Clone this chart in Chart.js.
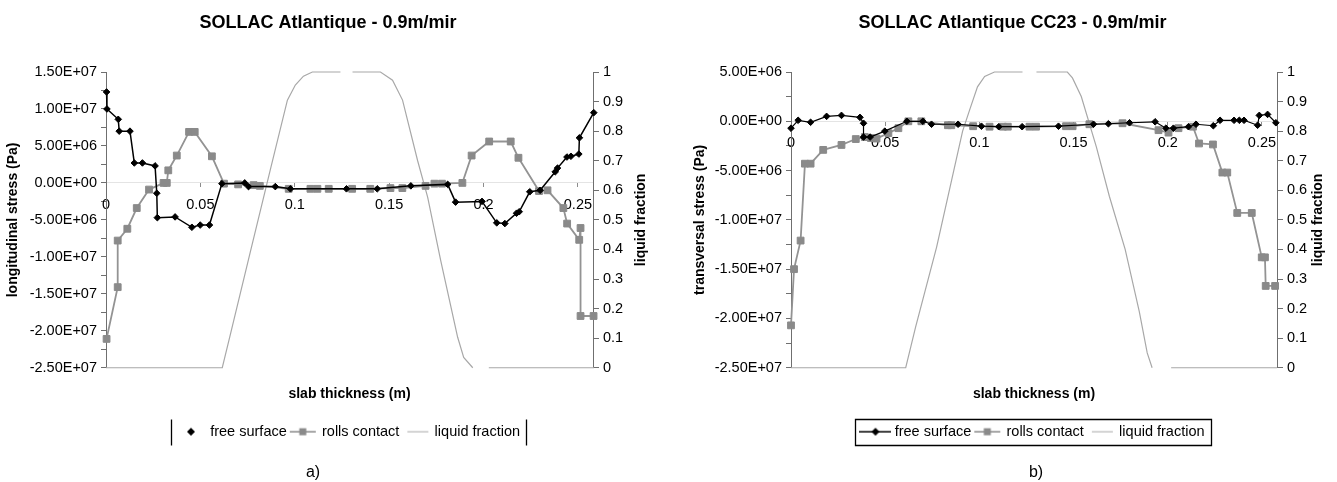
<!DOCTYPE html>
<html>
<head>
<meta charset="utf-8">
<title>SOLLAC Atlantique</title>
<script src="https://cdn.jsdelivr.net/npm/chart.js@4.4.1/dist/chart.umd.min.js"></script>
<style>
  html, body { margin: 0; padding: 0; background: #fff; }
  #wrap { position: relative; width: 1337px; height: 482px; overflow: hidden; }
  canvas { position: absolute; top: 0; }
  #chartA { left: 0; }
  #chartB { left: 668px; }
  .cap { position: absolute; top: 463px; font: 16px "Liberation Sans", Arial, sans-serif; transform: translateX(-50%); }
</style>
</head>
<body>
<div id="wrap">
  <canvas id="chartA" width="668" height="482"></canvas>
  <canvas id="chartB" width="669" height="482"></canvas>
  <div class="cap" style="left:313px">a)</div>
  <div class="cap" style="left:1036px">b)</div>
</div>
<script>
// series names and axis texts
const seriesNames = ['free surface', 'rolls contact', 'liquid fraction'];
const xTitle = 'slab thickness (m)';
const xMax = 0.258;

// a) longitudinal stress (Pa) vs slab thickness (m)
const aFreeX = [0.0003, 0.0005, 0.0065, 0.0070, 0.0127, 0.0150, 0.0193, 0.0260, 0.0269, 0.0272,
  0.0366, 0.0455, 0.0499, 0.0548, 0.0614, 0.0735, 0.0755, 0.0897, 0.0977, 0.1274,
  0.1437, 0.1615, 0.1810, 0.1852, 0.1992, 0.2070, 0.2113, 0.2175, 0.2189, 0.2245,
  0.2300, 0.2380, 0.2392, 0.2442, 0.2463, 0.2505, 0.2508, 0.2584];
const aFreeY = [12.3e6, 10.0e6, 8.6e6, 7.0e6, 7.0e6, 2.7e6, 2.7e6, 2.3e6, -1.4e6, -4.7e6,
  -4.6e6, -6.0e6, -5.7e6, -5.7e6, -0.1e6, 0, -0.5e6, -0.5e6, -0.8e6, -0.8e6,
  -0.8e6, -0.4e6, -0.2e6, -2.6e6, -2.5e6, -5.4e6, -5.5e6, -4.1e6, -3.9e6, -1.2e6,
  -1.0e6, 1.5e6, 2.0e6, 3.5e6, 3.6e6, 3.9e6, 6.1e6, 9.5e6];
const aRollX = [0.0003, 0.0062, 0.0062, 0.0113, 0.0163, 0.0228, 0.0305, 0.0322, 0.0330, 0.0375,
  0.0440, 0.0470, 0.0561, 0.0625, 0.0700, 0.0782, 0.0815, 0.0968, 0.1083, 0.1120,
  0.1180, 0.1304, 0.1400, 0.1507, 0.1570, 0.1693, 0.1740, 0.1780, 0.1888, 0.1937,
  0.2030, 0.2144, 0.2185, 0.2294, 0.2339, 0.2423, 0.2443, 0.2507, 0.2514, 0.2514, 0.2583];
const aRollY = [-21.1e6, -14.1e6, -7.8e6, -6.2e6, -3.4e6, -0.9e6, 0, 0, 1.7e6, 3.7e6,
  6.9e6, 6.9e6, 3.6e6, -0.1e6, -0.2e6, -0.3e6, -0.4e6, -0.8e6, -0.8e6, -0.8e6,
  -0.8e6, -0.8e6, -0.8e6, -0.7e6, -0.7e6, -0.4e6, -0.1e6, -0.1e6, 0, 3.7e6,
  5.6e6, 5.6e6, 3.4e6, -1.1e6, -1.0e6, -3.4e6, -5.5e6, -7.7e6, -6.1e6, -18.0e6, -18.0e6];
const aLiqX = [0, 0.0616, 0.0658, 0.0764, 0.0870, 0.0961, 0.1003, 0.1046, 0.1093, 0.1242,
  0.1274, 0.1306, 0.1454, 0.1518, 0.1571, 0.1651, 0.1704, 0.1773, 0.1863, 0.1895,
  0.1943, 0.1985, 0.2028, 0.2585];
const aLiqY = [0, 0, 0.11, 0.39, 0.668, 0.905, 0.956, 0.986, 1, 1,
  null, 1, 1, 0.972, 0.905, 0.70, 0.577, 0.363, 0.103, 0.035,
  0, null, 0, 0];

// b) transversal stress (Pa) vs slab thickness (m)
const bFreeX = [0.0000, 0.0038, 0.0104, 0.0189, 0.0268, 0.0366, 0.0385, 0.0385, 0.0420, 0.0498,
  0.0615, 0.0700, 0.0746, 0.0887, 0.1011, 0.1103, 0.1227, 0.1420, 0.1606, 0.1685,
  0.1797, 0.1933, 0.1990, 0.2030, 0.2110, 0.2150, 0.2242, 0.2278, 0.2352, 0.2380,
  0.2405, 0.2477, 0.2486, 0.2530, 0.2574];
const bFreeY = [-0.7e6, 0.1e6, -0.1e6, 0.5e6, 0.6e6, 0.4e6, -0.2e6, -1.6e6, -1.6e6, -1.0e6,
  0, 0, -0.3e6, -0.3e6, -0.5e6, -0.55e6, -0.55e6, -0.5e6, -0.3e6, -0.25e6,
  -0.15e6, -0.05e6, -0.7e6, -0.7e6, -0.55e6, -0.3e6, -0.45e6, 0.1e6, 0.1e6, 0.1e6,
  0.1e6, -0.4e6, 0.6e6, 0.7e6, -0.15e6];
const bRollX = [0.0000, 0.0016, 0.0051, 0.0074, 0.0104, 0.0171, 0.0268, 0.0344, 0.0392, 0.0424,
  0.0454, 0.0517, 0.0570, 0.0623, 0.0692, 0.0833, 0.0851, 0.0967, 0.1054, 0.1125,
  0.1151, 0.1266, 0.1301, 0.1460, 0.1495, 0.1584, 0.1760, 0.1951, 0.2004, 0.2057,
  0.2134, 0.2166, 0.2240, 0.2290, 0.2316, 0.2369, 0.2446, 0.2499, 0.2516, 0.2520, 0.2570];
const bRollY = [-20.7e6, -15.0e6, -12.1e6, -4.3e6, -4.3e6, -2.9e6, -2.4e6, -1.8e6, -1.6e6, -1.7e6,
  -1.75e6, -1.2e6, -0.7e6, 0, 0, -0.4e6, -0.4e6, -0.5e6, -0.55e6, -0.55e6,
  -0.55e6, -0.55e6, -0.55e6, -0.5e6, -0.5e6, -0.3e6, -0.2e6, -0.9e6, -1.15e6, -0.7e6,
  -0.55e6, -2.25e6, -2.35e6, -5.2e6, -5.2e6, -9.3e6, -9.3e6, -13.8e6, -13.8e6, -16.7e6, -16.7e6];
const bLiqX = [0, 0.0609, 0.0662, 0.0773, 0.0911, 0.0948, 0.0990, 0.1028, 0.1080, 0.1229,
  0.1266, 0.1303, 0.1467, 0.1494, 0.1541, 0.1621, 0.1690, 0.1774, 0.1849, 0.1891,
  0.1917, 0.1967, 0.2018, 0.2580];
const bLiqY = [0, 0, 0.139, 0.408, 0.80, 0.871, 0.95, 0.985, 1, 1,
  null, 1, 1, 0.98, 0.917, 0.747, 0.58, 0.40, 0.19, 0.05,
  0, null, 0, 0];

const FONT = '"Liberation Sans", Arial, Helvetica, sans-serif';
Chart.defaults.font.family = FONT;
Chart.defaults.font.size = 14.5;
Chart.defaults.color = '#000';

function pts(xs, ys) {
  return xs.map((x, i) => ({ x: x, y: ys[i] }));
}

// Excel style "1.50E+07"
function sci(v) {
  if (Math.abs(v) < 1e-6) return '0.00E+00';
  const parts = v.toExponential(2).split('e');
  const sign = parts[1][0];
  const exp = parts[1].slice(1).padStart(2, '0');
  return parts[0] + 'E' + sign + exp;
}

// small legend pictures: line with marker
function legendIcon(kind, withLine) {
  const c = document.createElement('canvas');
  c.width = 32; c.height = 12;
  const g = c.getContext('2d');
  const cx = 16, cy = 6;
  if (kind === 'free') {
    if (withLine) {
      g.strokeStyle = '#000'; g.lineWidth = 1.5;
      g.beginPath(); g.moveTo(0, cy); g.lineTo(32, cy); g.stroke();
    }
    g.fillStyle = '#000';
    g.beginPath();
    g.moveTo(cx - 4, cy); g.lineTo(cx, cy - 4); g.lineTo(cx + 4, cy); g.lineTo(cx, cy + 4);
    g.closePath(); g.fill();
  } else if (kind === 'roll') {
    g.strokeStyle = '#8a8a8a'; g.lineWidth = 1.5;
    g.beginPath(); g.moveTo(3, cy); g.lineTo(29, cy); g.stroke();
    g.fillStyle = '#8a8a8a';
    g.fillRect(cx - 3.5, cy - 3.5, 7, 7);
  } else {
    g.strokeStyle = '#a8a8a8'; g.lineWidth = 1;
    g.beginPath(); g.moveTo(8, cy); g.lineTo(29, cy); g.stroke();
  }
  return c;
}

// rotated title on the secondary axis (reads bottom to top)
const rightTitle = {
  id: 'rightTitle',
  afterDraw(chart, args, opts) {
    const { ctx, chartArea } = chart;
    ctx.save();
    ctx.font = 'bold 14px ' + FONT;
    ctx.fillStyle = '#000';
    ctx.textAlign = 'center';
    ctx.textBaseline = 'middle';
    ctx.translate(chartArea.right + opts.offset, (chartArea.top + chartArea.bottom) / 2);
    ctx.rotate(-Math.PI / 2);
    ctx.fillText(opts.text, 0, 0);
    ctx.restore();
  }
};

// frame round the legend
const legendFrame = {
  id: 'legendFrame',
  afterDraw(chart, args, opts) {
    const lg = chart.legend;
    if (!lg || !lg.legendHitBoxes || !lg.legendHitBoxes.length) return;
    const hb = lg.legendHitBoxes;
    const last = hb[hb.length - 1];
    const x0 = Math.round(hb[0].left - 8) + 0.5;
    const x1 = Math.round(last.left + last.width + 6) + 0.5;
    const y0 = Math.round(hb[0].top - 6) + 0.5;
    const y1 = Math.round(hb[0].top + hb[0].height + 6) + 0.5;
    const ctx = chart.ctx;
    ctx.save();
    ctx.strokeStyle = '#000';
    ctx.lineWidth = 1.3;
    ctx.beginPath();
    if (opts.full) {
      ctx.rect(x0, y0, x1 - x0, y1 - y0);
    } else {
      ctx.moveTo(x0, y0); ctx.lineTo(x0, y1);
      ctx.moveTo(x1, y0); ctx.lineTo(x1, y1);
    }
    ctx.stroke();
    ctx.restore();
  }
};

function buildChart(id, o) {
  const icons = [legendIcon('free', o.freeLine), legendIcon('roll', true), legendIcon('liq', true)];
  return new Chart(document.getElementById(id), {
    type: 'scatter',
    data: {
      datasets: [{
        label: seriesNames[0],
        data: pts(o.freeX, o.freeY),
        showLine: true,
        borderColor: '#000',
        borderWidth: o.freeWidth,
        pointStyle: 'rectRot',
        pointRadius: 3.3,
        pointBackgroundColor: '#000',
        pointBorderColor: '#000',
        pointBorderWidth: 1,
        xAxisID: 'x', yAxisID: 'y',
        clip: 10
      }, {
        label: seriesNames[1],
        data: pts(o.rollX, o.rollY),
        showLine: true,
        borderColor: '#939393',
        borderWidth: 1.8,
        pointStyle: 'rect',
        pointRadius: 4.8,
        pointBackgroundColor: '#8a8a8a',
        pointBorderColor: '#8a8a8a',
        pointBorderWidth: 1,
        xAxisID: 'x', yAxisID: 'y',
        clip: 10
      }, {
        label: seriesNames[2],
        data: pts(o.liqX, o.liqY),
        showLine: true,
        borderColor: '#a8a8a8',
        borderWidth: 1.2,
        pointRadius: 0,
        spanGaps: false,
        xAxisID: 'x', yAxisID: 'y2',
        clip: 10
      }]
    },
    options: {
      responsive: false,
      animation: false,
      events: [],
      layout: { padding: o.pad },
      scales: {
        x: {
          type: 'linear',
          position: { y: 0 },
          min: 0, max: xMax,
          grid: { drawOnChartArea: false, drawTicks: true, tickLength: 4, tickColor: '#8c8c8c' },
          border: { display: true, color: '#e4e4e4' },
          ticks: {
            stepSize: 0.05, includeBounds: false, autoSkip: false, maxRotation: 0, padding: 9,
            callback: v => String(Number(v.toFixed(2)))
          }
        },
        xt: {
          type: 'linear',
          position: 'bottom',
          min: 0, max: xMax,
          grid: { display: false },
          border: { display: false },
          ticks: { display: false },
          title: { display: true, text: xTitle, font: { size: 14, weight: 'bold' }, padding: { top: 0, bottom: 18.4 } },
          afterFit: s => { s.height = 52.75; }
        },
        y: {
          type: 'linear',
          position: 'left',
          min: o.yMin, max: o.yMax,
          grid: { drawOnChartArea: false, tickLength: 5, tickColor: '#6f6f6f' },
          border: { color: '#6f6f6f', width: 1 },
          ticks: {
            stepSize: 2.5e6, autoSkip: false, padding: 4,
            callback: v => (Math.abs(v / 5e6 - Math.round(v / 5e6)) < 1e-6 ? sci(v) : '')
          },
          title: { display: true, text: o.yTitle, font: { size: 14, weight: 'bold' }, padding: { top: o.yTitlePad, bottom: 0 } },
          afterFit: s => { s.width = o.leftW; }
        },
        y2: {
          type: 'linear',
          position: 'right',
          min: 0, max: 1,
          grid: { drawOnChartArea: false, tickLength: 6, tickColor: '#6f6f6f' },
          border: { color: '#6f6f6f', width: 1 },
          ticks: {
            stepSize: 0.1, autoSkip: false, padding: 4,
            callback: v => String(Number(v.toFixed(1)))
          },
          afterFit: s => { s.width = o.rightW; }
        }
      },
      plugins: {
        title: {
          display: true,
          text: o.title,
          font: { size: 18, weight: 'bold' },
          padding: { top: 12, bottom: 38.4 }
        },
        legend: {
          position: 'bottom',
          fullSize: false,
          align: 'center',
          labels: {
            usePointStyle: true,
            pointStyleWidth: 24,
            padding: 4,
            font: { size: 14.5 },
            generateLabels: chart => chart.data.datasets.map((ds, i) => ({
              text: ds.label,
              pointStyle: icons[i],
              fillStyle: '#000',
              strokeStyle: '#000',
              fontColor: '#000',
              lineWidth: 0,
              hidden: false,
              datasetIndex: i
            }))
          }
        },
        tooltip: { enabled: false },
        rightTitle: { text: 'liquid fraction', offset: o.rightTitleOffset },
        legendFrame: { full: o.fullFrame }
      }
    },
    plugins: [rightTitle, legendFrame]
  });
}

buildChart('chartA', {
  title: 'SOLLAC Atlantique - 0.9m/mir',
  yTitle: 'longitudinal stress (Pa)',
  yMin: -2.5e7, yMax: 1.5e7,
  freeX: aFreeX, freeY: aFreeY, rollX: aRollX, rollY: aRollY, liqX: aLiqX, liqY: aLiqY,
  pad: { left: 0, right: 12, top: 0, bottom: 33 },
  leftW: 106, rightW: 63, yTitlePad: 5, rightTitleOffset: 48,
  freeLine: false, freeWidth: 1.5, fullFrame: false
});

buildChart('chartB', {
  title: 'SOLLAC Atlantique CC23 - 0.9m/mir',
  yTitle: 'transversal stress (Pa)',
  yMin: -2.5e7, yMax: 5e6,
  freeX: bFreeX, freeY: bFreeY, rollX: bRollX, rollY: bRollY, liqX: bLiqX, liqY: bLiqY,
  pad: { left: 20, right: 0, top: 0, bottom: 33 },
  leftW: 103, rightW: 60, yTitlePad: 4, rightTitleOffset: 41,
  freeLine: true, freeWidth: 1.2, fullFrame: true
});
</script>
</body>
</html>
